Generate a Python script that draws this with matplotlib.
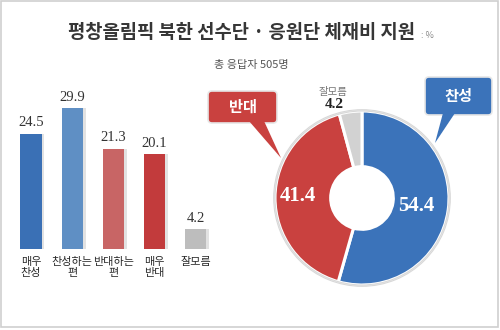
import matplotlib
matplotlib.use("Agg")
import matplotlib.pyplot as plt
from matplotlib.patches import FancyBboxPatch, Polygon, Rectangle

plt.rcParams['font.family'] = ['Noto Sans CJK KR', 'DejaVu Sans']

# ---- data ----
bar_labels = ["매우\n찬성", "찬성하는\n편", "반대하는\n편", "매우\n반대", "잘모름"]
bar_values = [24.5, 29.9, 21.3, 20.1, 4.2]
bar_colors = ["#3a70b5", "#5f8fc4", "#c86565", "#c23b3c", "#bdbdbd"]

pie_labels = ["찬성", "반대", "잘모름"]
pie_values = [54.4, 41.4, 4.2]
pie_colors = ["#3b73ba", "#c9413f", "#d2d2d2"]

title = "평창올림픽 북한 선수단 · 응원단 체재비 지원"
subtitle = "총 응답자 505명"

W, H = 500, 330
fig = plt.figure(figsize=(5, 3.3), dpi=100)
fig.patch.set_facecolor("white")

# ---- bar chart ----
axb = fig.add_axes([10.4 / W, 81 / H, 206 / W, 165 / H])
x = list(range(len(bar_values)))
axb.bar([i + 0.07 for i in x], bar_values, width=0.51, color="#e2e2e2", zorder=1)
bars = axb.bar(x, bar_values, width=0.51, color=bar_colors, zorder=2)
for xi, v in zip(x, bar_values):
    axb.annotate(f"{v:.1f}", (xi, v), xytext=(0, 3), textcoords="offset points",
                 ha="center", va="bottom", fontsize=10.5, color="#333333",
                 family=["Liberation Serif", "DejaVu Serif"])
axb.set_xlim(-0.5, 4.5)
axb.set_ylim(0, 35)
axb.set_xticks(x)
axb.set_xticklabels(bar_labels, fontsize=8, color="#2a2a2a", linespacing=1.1)
axb.tick_params(axis="x", length=0, pad=6)
axb.set_yticks([])
for s in axb.spines.values():
    s.set_visible(False)
axb.patch.set_alpha(0)

# ---- donut ----
axp = fig.add_axes([(362 - 90) / W, (330 - 198 - 90) / H, 180 / W, 180 / H])
wedges, _ = axp.pie(pie_values, colors=pie_colors, startangle=90, counterclock=False,
                    radius=1.0,
                    wedgeprops=dict(width=0.64, edgecolor="white", linewidth=2.2))
axp.pie([1], colors=["none"], radius=1.015,
        wedgeprops=dict(width=0.015, edgecolor="#d8d8d8", linewidth=0.8, facecolor="none"))
axp.set_xlim(-90 / 87, 90 / 87)
axp.set_ylim(-90 / 87, 90 / 87)
axp.set_aspect("equal")
axp.axis("off")

# ---- overlay for text / callouts ----
ov = fig.add_axes([0, 0, 1, 1], zorder=10)
ov.set_xlim(0, W)
ov.set_ylim(H, 0)
ov.axis("off")
ov.patch.set_alpha(0)

ov.add_patch(Rectangle((1, 1), 497, 326, fill=False, edgecolor="#cfcfcf", linewidth=1.2))

ov.text(242, 33, title, ha="center", va="center", fontsize=13.5, fontweight="black",
        color="#363636")
ov.text(421, 36, ": %", ha="left", va="center", fontsize=6.5, color="#888888")
ov.text(251, 65, subtitle, ha="center", va="center", fontsize=8, color="#555555")

serif = ["Liberation Serif", "DejaVu Serif"]
ov.text(416, 206, f"{pie_values[0]:.1f}", ha="center", va="center", fontsize=15,
        color="white", family=serif, fontweight="bold")
ov.text(298, 196, f"{pie_values[1]:.1f}", ha="center", va="center", fontsize=15,
        color="white", family=serif, fontweight="bold")
ov.text(333, 92, pie_labels[2], ha="center", va="center", fontsize=7.5, color="#777777")
ov.text(334, 105, f"{pie_values[2]:.1f}", ha="center", va="center", fontsize=11,
        color="#222222", family=serif, fontweight="bold")

# callouts
def callout(x0, y0, x1, y1, tail, color, text):
    ov.add_patch(Polygon(tail, closed=True, facecolor=color, edgecolor="white",
                         linewidth=1.0, zorder=3))
    ov.add_patch(FancyBboxPatch((x0, y0), x1 - x0, y1 - y0,
                                boxstyle="round,pad=0,rounding_size=4",
                                facecolor=color, edgecolor="#e6e6e6", linewidth=1.2,
                                zorder=4))
    ov.add_patch(Polygon(tail, closed=True, facecolor=color, edgecolor="none", zorder=5))
    ov.text((x0 + x1) / 2, (y0 + y1) / 2, text, ha="center", va="center",
            fontsize=11, fontweight="bold", color="white", zorder=6)

callout(425, 77, 492, 115, [(443, 113), (455, 113), (435, 143)], "#3b73ba", pie_labels[0])
callout(208, 91, 277, 123, [(249, 121), (264, 121), (281, 158)], "#c9413f", pie_labels[1])

fig.savefig("out.png", dpi=100, facecolor="white")
